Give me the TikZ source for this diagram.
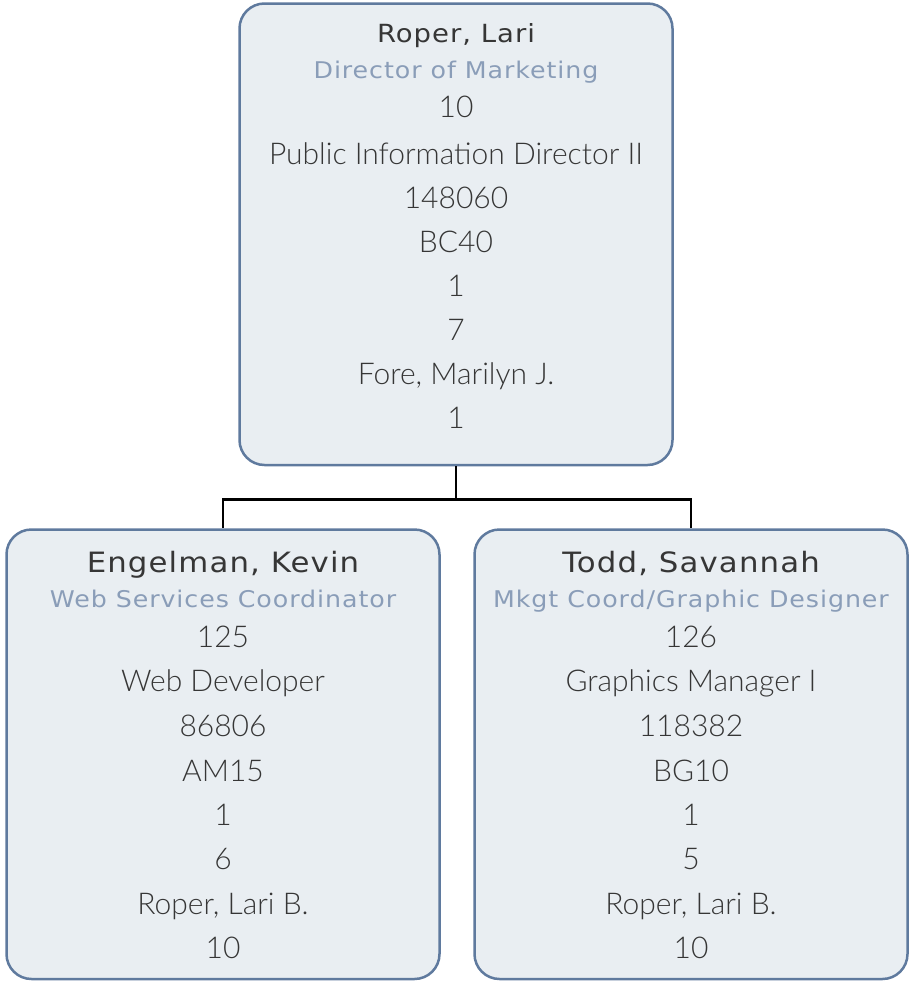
\documentclass[tikz,border=0pt]{standalone}
\usepackage{fontspec}
\newfontfamily\namefont[FakeStretch=1.1, LetterSpace=4]{DejaVu Sans}
\IfFontExistsTF{Lato Light}
  {\newfontfamily\bodyfont{Lato Light}}
  {\IfFontExistsTF{Lato-Light}
    {\newfontfamily\bodyfont{Lato-Light}}
    {\newfontfamily\bodyfont[FakeStretch=0.97]{Lato}}}
\definecolor{cardfill}{HTML}{E9EEF2}
\definecolor{cardline}{HTML}{5F7A9E}
\definecolor{titlegray}{HTML}{8A9DB8}
\definecolor{namegray}{HTML}{363636}
\tikzset{
  card/.style={draw=cardline, fill=cardfill, line width=2.5pt, rounded corners=25pt, minimum width=433pt},
  personname/.style={anchor=base, text=namegray, font=\namefont\fontsize{28}{34}\selectfont},
  roletext/.style={anchor=base, text=titlegray, font=\namefont\fontsize{23}{28}\selectfont},
  bodytext/.style={anchor=base, text=namegray, font=\bodyfont\fontsize{30}{36}\selectfont},
  link/.style={line width=2.5pt}
}
\begin{document}
\begin{tikzpicture}[x=1pt, y=-1pt]

\useasboundingbox (0,0) rectangle (911,983);

\node [card, minimum height=461.5pt] (lari) at (456,234.25) {};
\node [card, minimum height=449.5pt] (kevin) at (223,754.25) {};
\node [card, minimum height=449.5pt] (savannah) at (691,754.25) {};

\draw [link] (lari.south) -- ++(0,33) coordinate (split) -| (kevin.north);
\draw [link] (split) -| (savannah.north);

\node [personname, font=\namefont\fontsize{25}{30}\selectfont] (lari-name) at (456,42) {Roper, Lari};
\node [roletext] (lari-role) at (456,78) {Director of Marketing};
\foreach \y/\t [count=\i] in {117/10, 164/{Public Information Director II}, 208/148060, 252/BC40, 296/1, 340/7, 384/{Fore, Marilyn J.}, 428/1}
  \node [bodytext] (lari\i) at (456,\y) {\t};

\node [personname] (kevin-name) at (223,572) {Engelman, Kevin};
\node [roletext] (kevin-role) at (223,607) {Web Services Coordinator};
\foreach \y/\t [count=\i] in {647/125, 691/{Web Developer}, 736/86806, 781/AM15, 825/1, 869/6, 914/{Roper, Lari B.}, 958/10}
  \node [bodytext] (kevin\i) at (223,\y) {\t};

\node [personname] (savannah-name) at (691,572) {Todd, Savannah};
\node [roletext] (savannah-role) at (691,607) {Mkgt Coord/Graphic Designer};
\foreach \y/\t [count=\i] in {647/126, 691/{Graphics Manager I}, 736/118382, 781/BG10, 825/1, 869/5, 914/{Roper, Lari B.}, 958/10}
  \node [bodytext] (savannah\i) at (691,\y) {\t};

\end{tikzpicture}
\end{document}
